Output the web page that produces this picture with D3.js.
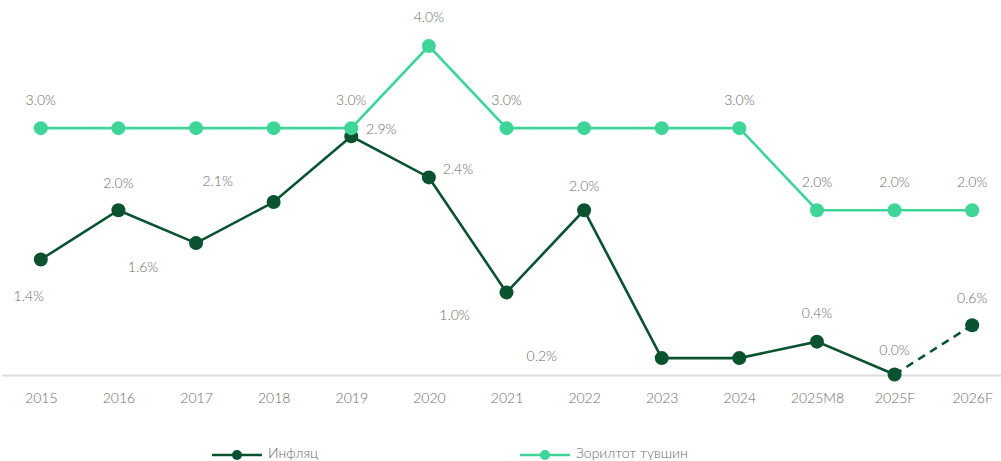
<!DOCTYPE html>
<html><head><meta charset="utf-8">
<script src="https://cdn.jsdelivr.net/npm/d3@7"></script>
<style>
html,body{margin:0;padding:0;background:#fff;overflow:hidden;}
text{font-family:Lato,"Noto Sans",sans-serif;font-weight:300;}
</style></head>
<body><svg id="c" width="1001" height="461"></svg>
<script>
const categories = ["2015","2016","2017","2018","2019","2020","2021","2022","2023","2024","2025M8","2025F","2026F"];
const inflation = [1.4,2.0,1.6,2.1,2.9,2.4,1.0,2.0,0.2,0.2,0.4,0.0,0.6];
const target = [3.0,3.0,3.0,3.0,3.0,4.0,3.0,3.0,3.0,3.0,2.0,2.0,2.0];
const inflationLabels = ["1.4%","2.0%","1.6%","2.1%","2.9%","2.4%","1.0%","2.0%","0.2%",null,"0.4%","0.0%","0.6%"];
const targetLabels = ["3.0%",null,null,null,"3.0%","4.0%","3.0%",null,null,"3.0%","2.0%","2.0%","2.0%"];
const seriesNames = ["Инфляц","Зорилтот түвшин"];
// label placement offsets (pixels) relative to each point
const inflOffsets = [[-12,38],[0,-26],[-53,25],[-56,-20],[30,-6],[29,-7],[-52,24],[0,-23],[-120,-1],[0,0],[0,-27],[0,-23],[0,-26]];
const targetOffsets = [[0,-27],[0,0],[0,0],[0,0],[0,-27],[0,-27],[0,-27],[0,0],[0,0],[0,-27],[0,-27],[0,-27],[0,-27]];

const dark = "#0a5230", light = "#3fd598";
const svg = d3.select("#c");
const x = d3.scalePoint().domain(categories).range([2,1011]).padding(0.5);
const y = d3.scaleLinear().domain([0,4]).range([374.5,46]);

// axis line
svg.append("line").attr("x1",2).attr("x2",1001).attr("y1",375.5).attr("y2",375.5)
  .attr("stroke","#dcdcdc").attr("stroke-width",2);
const ax = svg.append("g").attr("transform","translate(0,375)")
  .call(d3.axisBottom(x).tickSize(0).tickPadding(18));
ax.select(".domain").remove();
ax.selectAll("text").attr("fill","#6b6b6b").style("font-size","14px").style("font-family","Lato,'Noto Sans',sans-serif").style("font-weight","300");

const line = d3.line().x((d,i)=>x(categories[i])).y(d=>y(d));
const nSolid = categories.length - 1;
svg.append("path").datum(inflation.slice(0,nSolid))
  .attr("d", d3.line().x((d,i)=>x(categories[i])).y(d=>y(d)))
  .attr("fill","none").attr("stroke",dark).attr("stroke-width",2.6);
svg.append("path").datum([inflation[nSolid-1],inflation[nSolid]])
  .attr("d", d3.line().x((d,i)=>x(categories[nSolid-1+i])).y(d=>y(d)))
  .attr("fill","none").attr("stroke",dark).attr("stroke-width",2.6).attr("stroke-dasharray","8,6");
svg.selectAll(".di").data(inflation).enter().append("circle")
  .attr("cx",(d,i)=>x(categories[i])).attr("cy",d=>y(d)).attr("r",7).attr("fill",dark);

svg.append("path").datum(target).attr("d",line)
  .attr("fill","none").attr("stroke",light).attr("stroke-width",2.6);
svg.selectAll(".dt").data(target).enter().append("circle")
  .attr("cx",(d,i)=>x(categories[i])).attr("cy",d=>y(d)).attr("r",7).attr("fill",light);

function labels(vals, labs, offs){
  vals.forEach((v,i)=>{
    if(!labs[i]) return;
    svg.append("text").attr("x",x(categories[i])+offs[i][0]).attr("y",y(v)+offs[i][1])
      .attr("text-anchor","middle").attr("dominant-baseline","middle")
      .attr("fill","#6b6b6b").style("font-size","14px").text(labs[i]);
  });
}
labels(inflation, inflationLabels, inflOffsets);
labels(target, targetLabels, targetOffsets);

const leg = [{name:seriesNames[0],c:dark,x0:212},{name:seriesNames[1],c:light,x0:520}];
leg.forEach(l=>{
  svg.append("line").attr("x1",l.x0).attr("x2",l.x0+50).attr("y1",455).attr("y2",455).attr("stroke",l.c).attr("stroke-width",2.6);
  svg.append("circle").attr("cx",l.x0+25).attr("cy",455).attr("r",5).attr("fill",l.c);
  svg.append("text").attr("x",l.x0+56).attr("y",455).attr("dominant-baseline","middle")
    .attr("fill","#6b6b6b").style("font-size","14px").text(l.name);
});
</script></body></html>
